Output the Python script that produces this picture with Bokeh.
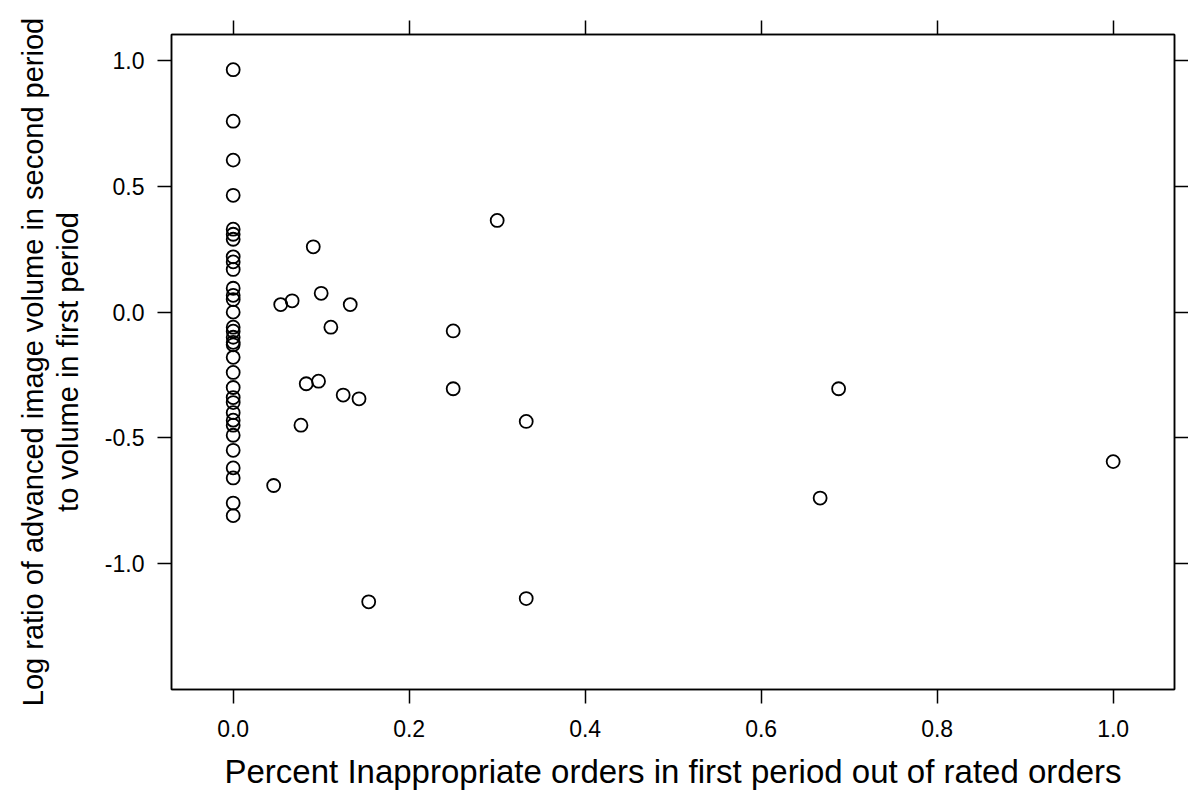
from bokeh.plotting import figure
from bokeh.models import LinearAxis, Range1d, FixedTicker, PrintfTickFormatter, ColumnDataSource
from bokeh.embed import file_html
from bokeh.resources import INLINE

# Points at x = 0
zero_y = [0.965, 0.76, 0.605, 0.465, 0.33, 0.31, 0.29, 0.22, 0.20, 0.17,
          0.095, 0.067, 0.05, 0.0, -0.06, -0.076, -0.10, -0.12, -0.13, -0.18,
          -0.24, -0.30, -0.34, -0.36, -0.40, -0.43, -0.45, -0.49, -0.55, -0.62,
          -0.66, -0.76, -0.81]
# Points at x > 0
other_x = [0.046, 0.054, 0.067, 0.077, 0.083, 0.091, 0.097, 0.100, 0.111, 0.125,
           0.133, 0.143, 0.154, 0.25, 0.25, 0.30, 0.333, 0.333, 0.667, 0.688, 1.0]
other_y = [-0.69, 0.03, 0.045, -0.45, -0.285, 0.26, -0.275, 0.075, -0.06, -0.33,
           0.03, -0.345, -1.153, -0.075, -0.305, 0.365, -0.435, -1.14, -0.74, -0.305, -0.595]

x_ticks = [0.0, 0.2, 0.4, 0.6, 0.8, 1.0]
y_ticks = [-1.0, -0.5, 0.0, 0.5, 1.0]

x_title = "Percent Inappropriate orders in first period out of rated orders"
y_title = "Log ratio of advanced image volume in second period\nto volume in first period"

xs = [0.0] * len(zero_y) + other_x
ys = zero_y + other_y
src = ColumnDataSource(dict(x=xs, y=ys))

FONT = "Liberation Sans"

p = figure(frame_width=1003, frame_height=655,
           x_range=Range1d(-0.0701, 1.0697), y_range=Range1d(-1.502, 1.105),
           output_backend="svg", toolbar_location=None, tools="",
           x_axis_location=None, y_axis_location=None,
           min_border_left=171, min_border_right=14, min_border_top=34, min_border_bottom=103)
p.xgrid.grid_line_color = None
p.ygrid.grid_line_color = None
p.outline_line_color = "black"
p.outline_line_width = 1.5
p.background_fill_color = "white"
p.border_fill_color = "white"

p.scatter("x", "y", source=src, size=13, fill_color=None, line_color="black", line_width=1.8)


def style(ax, ticks, labels=True):
    ax.ticker = FixedTicker(ticks=ticks)
    ax.major_tick_out = 14
    ax.major_tick_in = 0
    ax.minor_tick_out = 0
    ax.minor_tick_in = 0
    ax.major_tick_line_color = "black"
    ax.major_tick_line_width = 1.5
    ax.axis_line_color = "black"
    ax.axis_line_width = 1.5
    ax.major_label_text_font = FONT
    ax.major_label_text_font_size = "23px"
    ax.major_label_text_color = "black"
    ax.major_label_text_line_height = 1.0
    ax.axis_label_text_font = FONT
    ax.axis_label_text_font_style = "normal"
    ax.axis_label_text_color = "black"
    ax.axis_label_text_line_height = 1.0
    ax.formatter = PrintfTickFormatter(format="%.1f")
    if not labels:
        ax.major_label_text_font_size = "0px"
        ax.major_label_text_color = None


bottom = LinearAxis()
style(bottom, x_ticks)
bottom.axis_label = x_title
bottom.axis_label_text_font_size = "33px"
bottom.major_label_standoff = 16
bottom.axis_label_standoff = 13
p.add_layout(bottom, "below")

top = LinearAxis()
style(top, x_ticks, labels=False)
p.add_layout(top, "above")

left = LinearAxis()
style(left, y_ticks)
left.axis_label = y_title
left.axis_label_text_font_size = "29px"
left.axis_label_text_line_height = 1.1
left.major_label_standoff = 13
left.axis_label_standoff = 18
p.add_layout(left, "left")

right = LinearAxis()
style(right, y_ticks, labels=False)
p.add_layout(right, "right")

open("out.html", "w").write(file_html(p, INLINE))
